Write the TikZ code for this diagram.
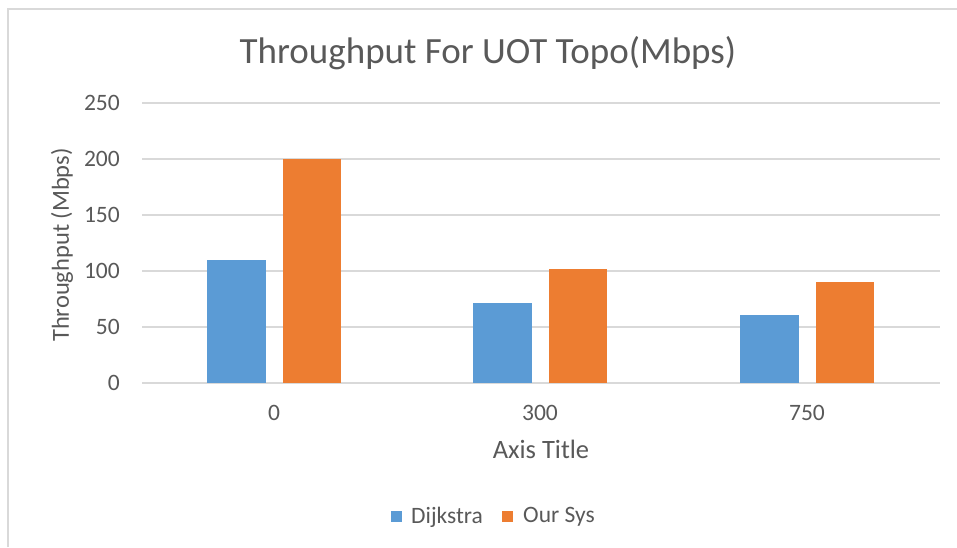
\documentclass[tikz,border=0pt]{standalone}
\usepackage{fontspec}
\setmainfont{Carlito}
\definecolor{dijblue}{HTML}{5B9BD5}
\definecolor{sysorange}{HTML}{ED7D31}
\definecolor{gridgray}{HTML}{D9D9D9}
\definecolor{txtgray}{HTML}{595959}
\tikzset{gridline/.style={gridgray,line width=1.5pt},
  lbl/.style={text=txtgray,inner sep=1pt}}
\begin{document}
\begin{tikzpicture}[x=1pt,y=-1pt,font=\fontsize{23.5}{28}\selectfont]
	\useasboundingbox (0,0) rectangle (957,547);
	\draw[gridgray,line width=2pt] (8,547)--(8,9)--(957,9);
	\node[lbl,font=\fontsize{37}{42}\selectfont] (title) at (488,53) {Throughput For UOT Topo(Mbps)};
	\foreach \v in {0,50,...,250}
		{\draw[gridline] (142,{383-1.12*\v})--(940,{383-1.12*\v});
		\node[lbl,anchor=east] (tick\v) at (121,{383-1.12*\v}) {\v};}
	\foreach \c/\x/\a/\b in {0/274/110/200,300/540/71/102,750/807/61/90}
		{\fill[dijblue] (\x-67,383) rectangle (\x-8,{383-1.12*\a});
		\fill[sysorange] (\x+9,383) rectangle (\x+67,{383-1.12*\b});
		\node[lbl] (cat\c) at (\x,413) {\c};}
	\node[lbl,font=\fontsize{26.5}{31}\selectfont] (xtitle) at (541,449) {Axis Title};
	\node[lbl,rotate=90,font=\fontsize{24.5}{29}\selectfont] (ytitle) at (62,245) {Throughput (Mbps)};
	\fill[dijblue] (391,511) rectangle (402,522);
	\node[lbl,anchor=west] (leg1) at (410,517) {Dijkstra};
	\fill[sysorange] (502,511) rectangle (513,522);
	\node[lbl,anchor=west] (leg2) at (522,517) {Our Sys};
\end{tikzpicture}
\end{document}
